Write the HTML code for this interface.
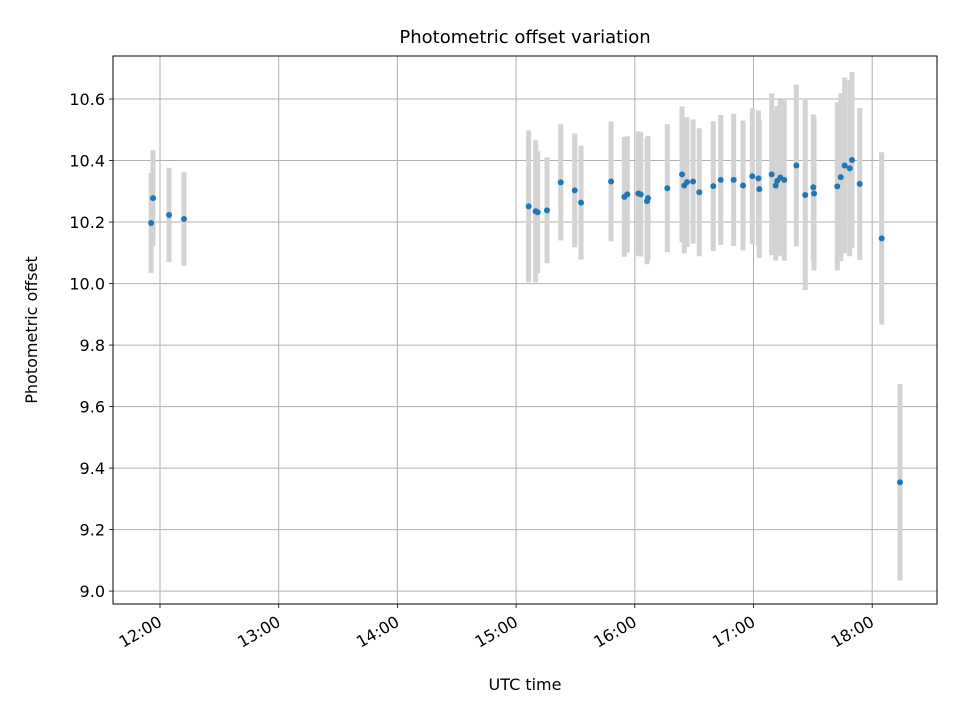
<!DOCTYPE html>
<html><head><meta charset="utf-8"><style>
body{margin:0;background:#fff;font-family:"Liberation Sans",sans-serif}
svg text{font-family:"DejaVu Sans","Liberation Sans",sans-serif;fill:#000}
</style></head><body>
<svg id="chart" width="960" height="720" xmlns="http://www.w3.org/2000/svg">
<rect width="960" height="720" fill="#fff"/>
<text x="525" y="43" font-size="18" text-anchor="middle">Photometric offset variation</text>
<text x="525" y="690" font-size="16" text-anchor="middle">UTC time</text>
<text x="0" y="0" font-size="16" text-anchor="middle" transform="translate(37,330) rotate(-90)">Photometric offset</text>
<g id="grid"></g><g id="marks"></g><g id="axes"></g>
</svg>
<script>
const times=[11.925,11.941,12.076,12.202,15.106,15.165,15.182,15.260,15.376,15.494,15.547,15.800,15.912,15.937,16.030,16.050,16.103,16.111,16.274,16.398,16.417,16.440,16.491,16.543,16.661,16.724,16.833,16.912,16.990,17.041,17.049,17.153,17.187,17.200,17.226,17.259,17.361,17.436,17.504,17.510,17.706,17.735,17.768,17.811,17.830,17.895,18.080,18.234];
const offsets=[10.197,10.278,10.223,10.210,10.251,10.235,10.232,10.238,10.329,10.303,10.263,10.332,10.282,10.290,10.293,10.290,10.268,10.278,10.310,10.355,10.319,10.330,10.332,10.297,10.317,10.337,10.337,10.319,10.349,10.342,10.307,10.355,10.319,10.334,10.345,10.337,10.384,10.288,10.313,10.293,10.316,10.346,10.384,10.375,10.402,10.324,10.147,9.354];
const errors=[0.163,0.156,0.153,0.153,0.247,0.231,0.198,0.172,0.189,0.185,0.185,0.195,0.195,0.189,0.202,0.202,0.205,0.202,0.208,0.221,0.221,0.211,0.202,0.208,0.211,0.211,0.215,0.211,0.221,0.221,0.224,0.263,0.244,0.244,0.254,0.263,0.263,0.309,0.237,0.250,0.273,0.273,0.286,0.286,0.286,0.247,0.280,0.319];
const xTicks=[12,13,14,15,16,17,18];
const xTickLabels=["12:00","13:00","14:00","15:00","16:00","17:00","18:00"];
const yTicks=[9.0,9.2,9.4,9.6,9.8,10.0,10.2,10.4,10.6];
const yTickLabels=["9.0","9.2","9.4","9.6","9.8","10.0","10.2","10.4","10.6"];

const L=113,R=937,T=56,B=604;
const x0=11.604,x1=18.546,y0=8.958,y1=10.740;
const sx=v=>L+(v-x0)/(x1-x0)*(R-L);
const sy=v=>B-(v-y0)/(y1-y0)*(B-T);
const NS="http://www.w3.org/2000/svg";
function mk(tag,attrs,parent){const e=document.createElementNS(NS,tag);for(const k in attrs)e.setAttribute(k,attrs[k]);parent.appendChild(e);return e;}
const grid=document.getElementById('grid'),marks=document.getElementById('marks'),axes=document.getElementById('axes');
xTicks.forEach((t,i)=>{const x=sx(t);
 const g=mk('line',{x1:x,x2:x,y1:T,y2:B,stroke:'#b0b0b0','stroke-width':1},grid);
 
 
 const tk=mk('line',{x1:x,x2:x,y1:B,y2:B+4,stroke:'#000','stroke-width':0.8},axes);
 
 
 const tx=mk('text',{x:0,y:0,'font-size':16,'text-anchor':'end',transform:`translate(${x+3},${B+21}) rotate(-30)`},axes);
 tx.textContent=xTickLabels[i];
 
 
});
yTicks.forEach((t,i)=>{const y=sy(t);
 const g=mk('line',{x1:L,x2:R,y1:y,y2:y,stroke:'#b0b0b0','stroke-width':1},grid);
 
 
 const tk=mk('line',{x1:L-4,x2:L,y1:y,y2:y,stroke:'#000','stroke-width':0.8},axes);
 
 
 const tx=mk('text',{x:L-8,y:y+6,'font-size':16,'text-anchor':'end'},axes);
 tx.textContent=yTickLabels[i];
 
 
});
times.forEach((t,i)=>{const x=sx(t);
 const e=mk('line',{x1:x,x2:x,y1:sy(offsets[i]-errors[i]),y2:sy(offsets[i]+errors[i]),stroke:'#d3d3d3','stroke-width':5},marks);
 
 
});
times.forEach((t,i)=>{
 const c=mk('circle',{cx:sx(t),cy:sy(offsets[i]),r:3,fill:'#1f77b4'},marks);
 
 
});
const fr=mk('rect',{x:L,y:T,width:R-L,height:B-T,fill:'none',stroke:'#000','stroke-width':1},axes);


</script>
</body></html>
